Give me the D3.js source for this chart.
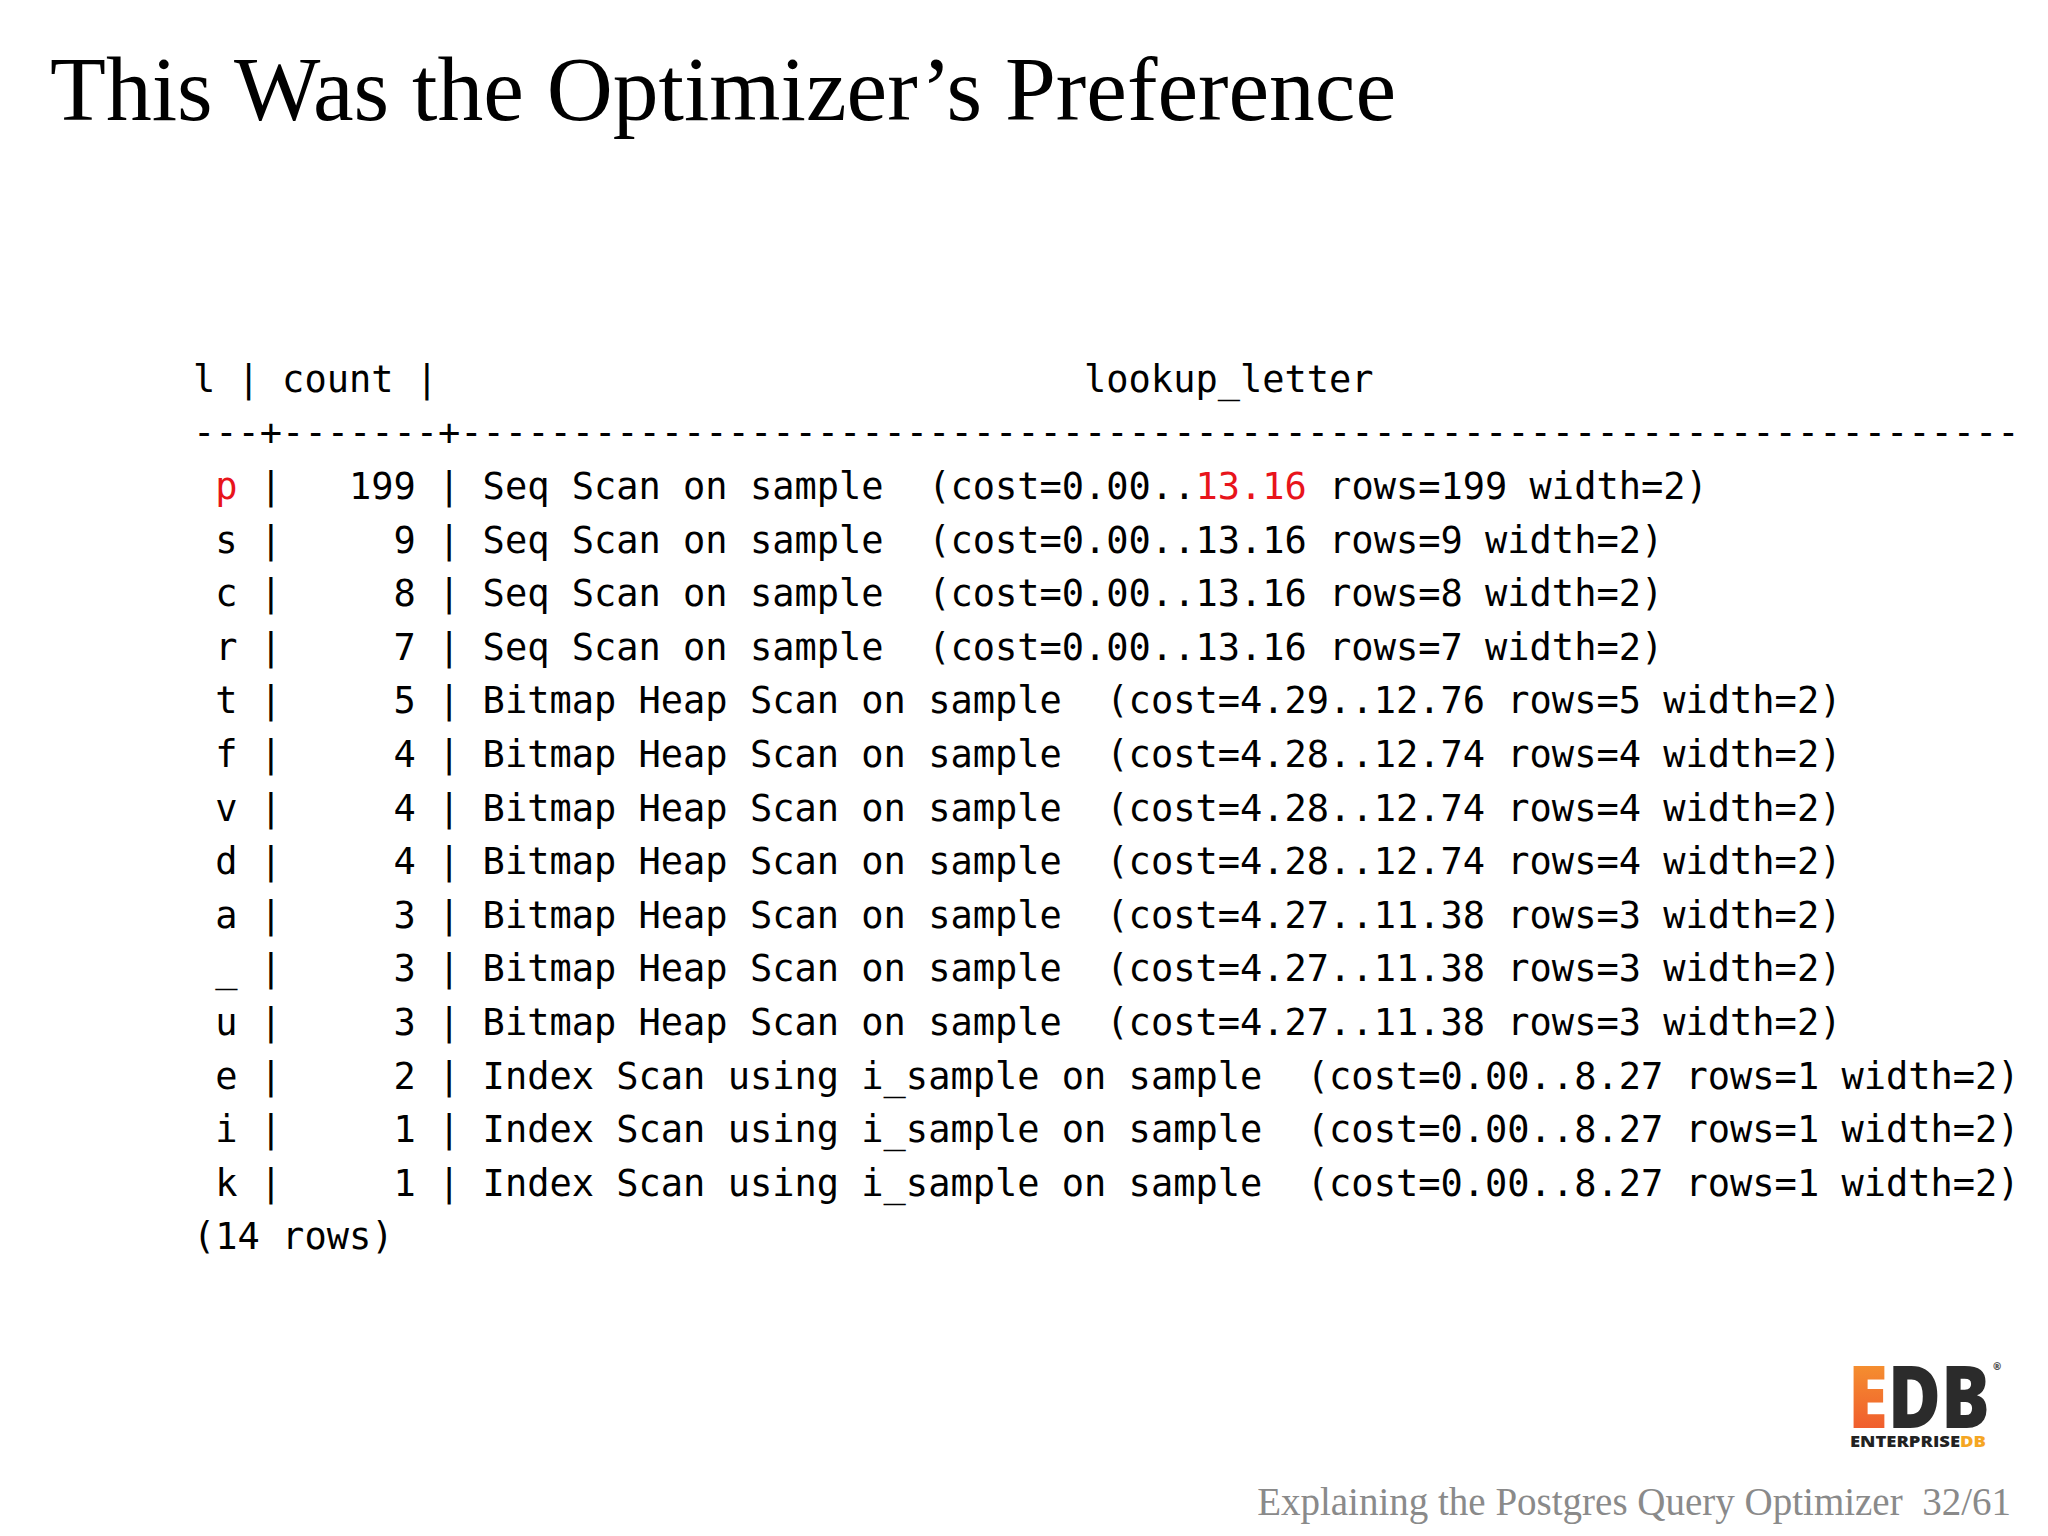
<!DOCTYPE html>
<html><head><meta charset="utf-8">
<script src="https://cdn.jsdelivr.net/npm/d3@7"></script>
<style>body{margin:0;background:#fff}</style></head>
<body><svg id="s" width="2048" height="1536"></svg>
<script>
const letters = ["p","s","c","r","t","f","v","d","a","_","u","e","i","k"];
const counts = [199,9,8,7,5,4,4,4,3,3,3,2,1,1];
const plans = [
 "Seq Scan on sample  (cost=0.00..13.16 rows=199 width=2)",
 "Seq Scan on sample  (cost=0.00..13.16 rows=9 width=2)",
 "Seq Scan on sample  (cost=0.00..13.16 rows=8 width=2)",
 "Seq Scan on sample  (cost=0.00..13.16 rows=7 width=2)",
 "Bitmap Heap Scan on sample  (cost=4.29..12.76 rows=5 width=2)",
 "Bitmap Heap Scan on sample  (cost=4.28..12.74 rows=4 width=2)",
 "Bitmap Heap Scan on sample  (cost=4.28..12.74 rows=4 width=2)",
 "Bitmap Heap Scan on sample  (cost=4.28..12.74 rows=4 width=2)",
 "Bitmap Heap Scan on sample  (cost=4.27..11.38 rows=3 width=2)",
 "Bitmap Heap Scan on sample  (cost=4.27..11.38 rows=3 width=2)",
 "Bitmap Heap Scan on sample  (cost=4.27..11.38 rows=3 width=2)",
 "Index Scan using i_sample on sample  (cost=0.00..8.27 rows=1 width=2)",
 "Index Scan using i_sample on sample  (cost=0.00..8.27 rows=1 width=2)",
 "Index Scan using i_sample on sample  (cost=0.00..8.27 rows=1 width=2)"
];
const highlightRow = 0, highlightText = "13.16";
const title = "This Was the Optimizer\u2019s Preference";
const footer = "Explaining the Postgres Query Optimizer";
const pageNo = "32/61";

const svg = d3.select("#s");
const mono = "'DejaVu Sans Mono', monospace";
const fs = 37, cw = 22.25;
const x0 = 193;
const y = d3.scaleLinear().domain([0, 1]).range([499, 552.6]);

svg.append("text").attr("x",50).attr("y",120).attr("font-family","'Liberation Serif',serif")
  .attr("font-size",91.5).attr("fill","#000").text(title);

const g = svg.append("g").attr("font-family",mono).attr("font-size",fs).attr("fill","#000")
  .style("white-space","pre");
function line(row){
  return g.append("text").attr("x", x0).attr("y", y(row)).attr("xml:space","preserve");
}
line(-2).text("l | count |" + " ".repeat(29) + "lookup_letter");
line(-1).text("---+-------+" + "-".repeat(70));
letters.forEach((l,i)=>{
  const t = line(i);
  const cnt = String(counts[i]).padStart(6," ");
  t.append("tspan").text(" ");
  t.append("tspan").attr("fill", i===highlightRow?"#e8141b":"#000").text(l);
  t.append("tspan").text(" |" + cnt + " | ");
  const p = plans[i];
  if(i===highlightRow){
    const k = p.indexOf(highlightText);
    t.append("tspan").text(p.slice(0,k));
    t.append("tspan").attr("fill","#e8141b").text(highlightText);
    t.append("tspan").text(p.slice(k+highlightText.length));
  } else t.append("tspan").text(p);
});
line(letters.length).text("(" + letters.length + " rows)");

// footer
svg.append("text").attr("x",2011).attr("y",1515).attr("text-anchor","end")
  .attr("font-family","'Liberation Serif',serif").attr("font-size",39).attr("fill","#8a8a8a")
  .attr("xml:space","preserve").text(footer + "  " + pageNo);

// logo
const lg = svg.append("g").attr("font-family","'Open Sans',sans-serif").attr("font-weight",800);
const grad = svg.append("defs").append("linearGradient").attr("id","og").attr("x1",0).attr("y1",0).attr("x2",0).attr("y2",1);
grad.append("stop").attr("offset",0).attr("stop-color","#f7a531");
grad.append("stop").attr("offset",1).attr("stop-color","#ee4a2c");
lg.append("text").attr("x",1848).attr("y",1428).attr("font-size",86)
  .attr("textLength",142).attr("lengthAdjust","spacingAndGlyphs")
  .call(t=>{t.append("tspan").attr("fill","url(#og)").text("E");t.append("tspan").attr("fill","#2b2b2b").text("DB");});
lg.append("text").attr("x",1850).attr("y",1447).attr("font-size",15).attr("textLength",136)
  .attr("lengthAdjust","spacingAndGlyphs")
  .call(t=>{t.append("tspan").attr("fill","#222").text("ENTERPRISE");t.append("tspan").attr("fill","#f5a623").text("DB");});
lg.append("text").attr("x",1993).attr("y",1370).attr("font-size",10).attr("fill","#555").text("®");
</script></body></html>
